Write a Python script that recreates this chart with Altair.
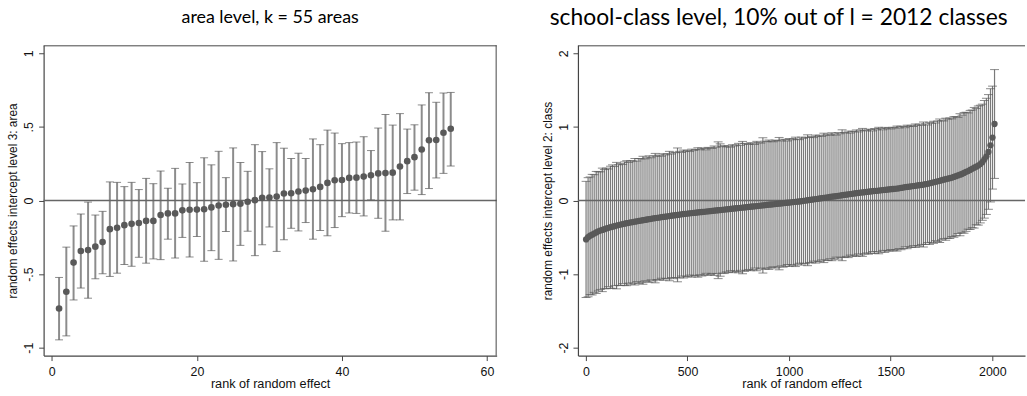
import altair as alt
import pandas as pd

# ---------------- left panel: area level (k = 55) ----------------
area_rank = list(range(1, 56))
area_mean = [-0.734, -0.620, -0.422, -0.343, -0.337, -0.314, -0.283, -0.195, -0.186, -0.168,
             -0.159, -0.153, -0.139, -0.139, -0.099, -0.088, -0.088, -0.067, -0.063, -0.062,
             -0.060, -0.047, -0.034, -0.029, -0.025, -0.022, -0.009, 0.002, 0.018, 0.020,
             0.027, 0.047, 0.049, 0.061, 0.067, 0.076, 0.092, 0.119, 0.137, 0.139,
             0.153, 0.155, 0.162, 0.171, 0.184, 0.186, 0.189, 0.231, 0.267, 0.294,
             0.346, 0.409, 0.411, 0.460, 0.487]
area_upper = [-0.523, -0.317, -0.173, -0.092, -0.011, -0.099, -0.074, 0.126, 0.123, 0.094,
              0.123, 0.074, 0.150, 0.114, 0.200, 0.083, 0.218, 0.112, 0.258, 0.121,
              0.290, 0.242, 0.334, 0.155, 0.357, 0.258, 0.198, 0.379, 0.332, 0.215,
              0.393, 0.355, 0.285, 0.321, 0.285, 0.418, 0.379, 0.478, 0.458, 0.386,
              0.393, 0.397, 0.433, 0.339, 0.492, 0.584, 0.512, 0.590, 0.485, 0.514,
              0.649, 0.732, 0.667, 0.730, 0.734]
area_lower = [-0.947, -0.920, -0.676, -0.595, -0.664, -0.532, -0.498, -0.516, -0.494, -0.435,
              -0.447, -0.386, -0.426, -0.397, -0.402, -0.263, -0.391, -0.251, -0.384, -0.245,
              -0.413, -0.341, -0.400, -0.211, -0.411, -0.305, -0.209, -0.375, -0.301, -0.180,
              -0.346, -0.267, -0.189, -0.207, -0.150, -0.263, -0.204, -0.240, -0.184, -0.110,
              -0.085, -0.088, -0.105, 0.004, -0.121, -0.209, -0.132, -0.132, 0.047, 0.070,
              0.040, 0.081, 0.153, 0.184, 0.234]

# ---------------- right panel: school-class level (10% of 2012) ----------------
class_rank = list(range(1, 2012, 10))
class_mean = [-0.53, -0.50, -0.48, -0.465, -0.45, -0.435, -0.42, -0.41, -0.40, -0.39, -0.38,
              -0.372, -0.364, -0.356, -0.349, -0.342, -0.335, -0.328, -0.321, -0.315, -0.309,
              -0.304, -0.299, -0.294, -0.289, -0.284, -0.279, -0.274, -0.269, -0.264, -0.259, -0.254, -0.249, -0.244,
              -0.240, -0.236, -0.232, -0.228, -0.224, -0.220, -0.216, -0.212, -0.208, -0.204, -0.200, -0.196, -0.192, -0.188, -0.184, -0.181, -0.178,
              -0.175, -0.172, -0.169, -0.166, -0.163, -0.160, -0.157, -0.154, -0.151, -0.148, -0.145, -0.142, -0.139, -0.136, -0.133, -0.130,
              -0.127, -0.124, -0.121, -0.118, -0.115, -0.112, -0.109, -0.106, -0.103, -0.100, -0.097, -0.094, -0.091, -0.088,
              -0.085, -0.082, -0.079, -0.076, -0.073, -0.070, -0.067, -0.064, -0.061, -0.058, -0.055, -0.052, -0.049, -0.046,
              -0.043, -0.040, -0.037, -0.034, -0.031, -0.028, -0.025, -0.022, -0.019, -0.016, -0.013,
              -0.009, -0.005, -0.001, 0.003, 0.007, 0.011, 0.015, 0.019, 0.023, 0.027, 0.031, 0.035, 0.039, 0.043, 0.047, 0.051, 0.055, 0.059,
              0.063, 0.067, 0.071, 0.075, 0.079, 0.083, 0.087, 0.091, 0.095, 0.099, 0.103, 0.107, 0.110, 0.113, 0.116, 0.120,
              0.123, 0.126, 0.129, 0.132, 0.135, 0.138, 0.141, 0.144, 0.147, 0.150, 0.153, 0.156, 0.159, 0.162, 0.166, 0.170,
              0.175, 0.180, 0.184, 0.188, 0.192, 0.196, 0.200, 0.204, 0.208, 0.212, 0.217, 0.222, 0.227, 0.233, 0.240,
              0.247, 0.254, 0.261, 0.268, 0.275, 0.282, 0.289, 0.296, 0.303, 0.310,
              0.320, 0.330, 0.340, 0.350, 0.360, 0.375, 0.390, 0.400, 0.415, 0.430,
              0.445, 0.460, 0.475, 0.495, 0.520,
              0.560, 0.600, 0.660, 0.750,
              0.855, 1.040]
class_halfwidth = [0.79, 0.81, 0.80, 0.82, 0.80, 0.83, 0.81, 0.80, 0.84, 0.81,
                   0.82, 0.80, 0.83, 0.84, 0.81, 0.86, 0.82, 0.83, 0.81, 0.84,
                   0.85, 0.82, 0.84, 0.83, 0.86, 0.82, 0.85, 0.84, 0.87, 0.83,
                   0.84, 0.86, 0.83, 0.85, 0.88, 0.84, 0.85, 0.83, 0.86, 0.84,
                   0.85, 0.88, 0.84, 0.86, 0.85, 0.91, 0.86, 0.84, 0.87, 0.85,
                   0.86, 0.84, 0.87, 0.85, 0.86, 0.88, 0.85, 0.87, 0.86, 0.84,
                   0.87, 0.86, 0.85, 0.88, 0.86, 0.93, 0.90, 0.86, 0.87, 0.85,
                   0.86, 0.84, 0.87, 0.85, 0.86, 0.88, 0.85, 0.90, 0.87, 0.86,
                   0.85, 0.87, 0.86, 0.84, 0.88, 0.86, 0.85, 0.92, 0.87, 0.86,
                   0.88, 0.86, 0.85, 0.87, 0.86, 0.90, 0.85, 0.87, 0.86, 0.84,
                   0.87, 0.85, 0.86, 0.88, 0.85, 0.84, 0.87, 0.85, 0.86, 0.89,
                   0.85, 0.86, 0.84, 0.87, 0.85, 0.86, 0.84, 0.88, 0.85, 0.86,
                   0.84, 0.87, 0.85, 0.83, 0.86, 0.84, 0.89, 0.85, 0.84, 0.86,
                   0.83, 0.85, 0.84, 0.86, 0.83, 0.85, 0.87, 0.84, 0.83, 0.85,
                   0.84, 0.82, 0.85, 0.83, 0.86, 0.84, 0.82, 0.85, 0.83, 0.84,
                   0.82, 0.84, 0.83, 0.85, 0.82, 0.84, 0.83, 0.81, 0.84, 0.82,
                   0.83, 0.81, 0.84, 0.82, 0.83, 0.81, 0.85, 0.82, 0.80, 0.83,
                   0.81, 0.83, 0.80, 0.82, 0.84, 0.81, 0.80, 0.83, 0.81, 0.82,
                   0.80, 0.82, 0.81, 0.79, 0.83, 0.80, 0.82, 0.81, 0.79, 0.81,
                   0.80, 0.82, 0.79, 0.81, 0.80, 0.79, 0.80, 0.79, 0.78, 0.77,
                   0.70, 0.74]

area_df = pd.DataFrame({"rank": area_rank, "mean": area_mean,
                        "lower": area_lower, "upper": area_upper})
class_df = pd.DataFrame({"rank": class_rank, "mean": class_mean,
                         "hw": class_halfwidth})
class_df["lower"] = class_df["mean"] - class_df["hw"]
class_df["upper"] = class_df["mean"] + class_df["hw"]

AXIS_FONT = "Liberation Sans"
CAP_COLOR = "#5a5a5a"
DOT_COLOR = "#595959"
FRAME = "#444444"
one = pd.DataFrame({"k": [0]})


def panel(df, xdom, ydom, xticks, yticks, ytitle, title, w, h,
          bar_w, bar_color, cap_w, dot_size, title_dx, title_size, title_offset,
          right_border):
    xax = alt.Axis(values=xticks, title="rank of random effect", grid=False,
                   labelExpr="toString(datum.value)",
                   labelFont=AXIS_FONT, titleFont=AXIS_FONT, labelFontSize=12.5,
                   titleFontSize=12.8, titleFontWeight="normal", labelColor="#111",
                   titleColor="#111", tickColor=FRAME, domainColor=FRAME,
                   tickSize=5, labelPadding=5, titlePadding=0, labelFlush=False)
    yax = alt.Axis(values=yticks, title=ytitle, grid=False,
                   labelExpr="replace(toString(datum.value), '0.', '.')",
                   labelAngle=270, labelAlign="center", labelBaseline="bottom",
                   labelFont=AXIS_FONT, titleFont=AXIS_FONT, labelFontSize=12.5,
                   titleFontSize=12, titleFontWeight="normal", labelColor="#111",
                   titleColor="#111", tickColor=FRAME, domainColor=FRAME,
                   tickSize=5, labelPadding=3, titlePadding=3)
    xs = alt.Scale(domain=xdom, nice=False, zero=False)
    ys = alt.Scale(domain=ydom, nice=False, zero=False)

    bars = alt.Chart(df).mark_rule(color=bar_color, strokeWidth=bar_w).encode(
        x=alt.X("rank:Q", scale=xs, axis=xax),
        y=alt.Y("lower:Q", scale=ys, axis=yax),
        y2="upper:Q")
    cap_hi = alt.Chart(df).mark_tick(color=CAP_COLOR, orient="horizontal",
                                      size=cap_w, thickness=1).encode(
        x="rank:Q", y="upper:Q")
    cap_lo = alt.Chart(df).mark_tick(color=CAP_COLOR, orient="horizontal",
                                      size=cap_w, thickness=1).encode(
        x="rank:Q", y="lower:Q")
    zero = alt.Chart(one).mark_rule(color="#666666", strokeWidth=1.5).encode(
        x=alt.value(0), x2=alt.value(w), y=alt.YDatum(0))
    dots = alt.Chart(df).mark_circle(color=DOT_COLOR, opacity=1, size=dot_size).encode(
        x="rank:Q", y="mean:Q")
    top = alt.Chart(one).mark_rule(color=FRAME, strokeWidth=1).encode(
        x=alt.value(0), x2=alt.value(w), y=alt.value(0.5))
    layers = [bars, cap_hi, cap_lo, zero, dots, top]
    if right_border:
        rb = alt.Chart(one).mark_rule(color=FRAME, strokeWidth=1).encode(
            x=alt.value(w - 0.5), y=alt.value(0), y2=alt.value(h))
        layers.append(rb)
    return alt.layer(*layers).properties(
        width=w, height=h,
        title=alt.TitleParams(title, fontSize=title_size, font="Lato", fontWeight="normal",
                              color="#000", anchor="middle", frame="group",
                              offset=title_offset, dx=title_dx))


left = panel(area_df, [-1.13, 61.33], [-1.054, 1.054], [0, 20, 40, 60],
             [-1, -0.5, 0, 0.5, 1], "random effects intercept level 3: area",
             "area level, k = 55 areas", 457, 313, 2, "#8c8c8c", 8, 45, 0, 18, 18, True)
right = panel(class_df, [-39, 2161], [-2.11, 2.11], [0, 500, 1000, 1500, 2000],
              [-2, -1, 0, 1, 2], "random effects intercept level 2: class",
              "school-class level, 10% out of l = 2012 classes", 451, 313, 1.2,
              "#7a7a7a", 9, 40, -23, 23, 15, False)

chart = alt.hconcat(left, right, spacing=42).properties(
    padding={"left": 6, "top": 5, "right": 0, "bottom": 0}
).configure_view(stroke="transparent").configure_axis(domainWidth=1.2)

chart.save("out.html", embed_options={"renderer": "svg", "actions": False})
